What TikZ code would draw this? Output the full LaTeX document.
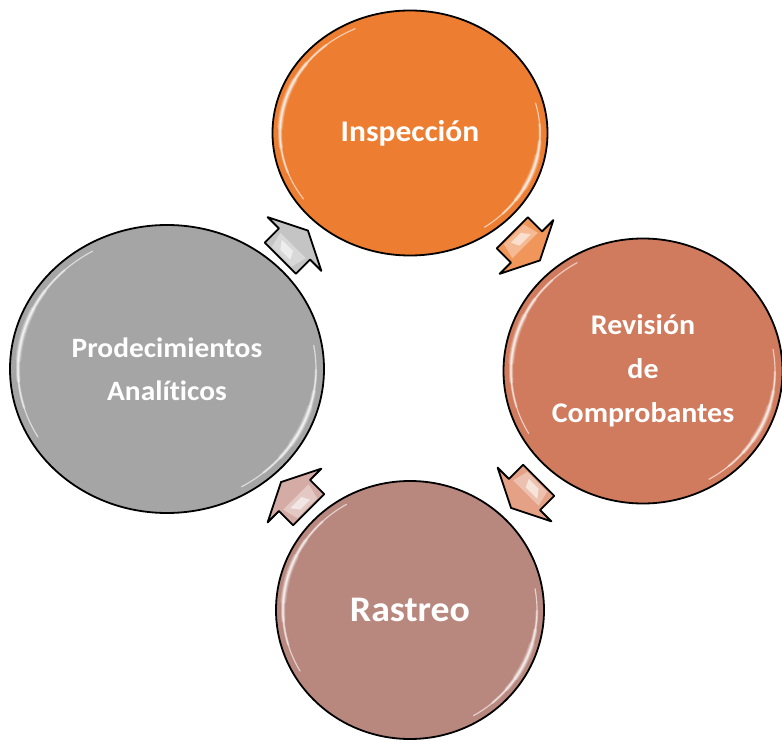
\documentclass[tikz,border=0pt]{standalone}
\usepackage{fontspec}
\setmainfont{Carlito}[FakeStretch=1.05, Ligatures=NoCommon]
\usetikzlibrary{shapes.geometric,calc}

\definecolor{cInsp}{HTML}{ED7D31}
\definecolor{cRev}{HTML}{D07B5D}
\definecolor{cRas}{HTML}{B8887F}
\definecolor{cProd}{HTML}{A5A5A5}
\definecolor{aInsp}{HTML}{F0965A}
\definecolor{aRev}{HTML}{E4A185}
\definecolor{aRas}{HTML}{D5ACA5}
\definecolor{aProd}{HTML}{C4C4C4}

\tikzset{
  stage/.style={ellipse, draw=black, line width=1.8pt, inner sep=0pt,
    text=white, align=center, font=\bfseries},
  arrowshape/.style={draw=black, line width=1.8pt, line join=round},
}

% glossy rim: tapered white arcs inside an ellipse node
\newcommand\glossrim[5]{% node, rx, ry, start, end
  \foreach \w/\o/\t in {1.2/0.6/0, 2.5/0.35/0.15, 4/0.3/0.28, 6/0.2/0.38}{
    \pgfmathsetmacro\sa{#4+(#5-#4)*\t}
    \pgfmathsetmacro\ea{#5-(#5-#4)*\t}
    \draw[white, line width=\w pt, opacity=\o, line cap=round]
      ($(#1.center)+(\sa:#2pt and #3pt)$)
      arc[start angle=\sa, end angle=\ea, x radius=#2pt, y radius=#3pt];
  }}

% notched cycle arrow placed at a point, pointing along an angle
\newcommand\cyclearrow[3]{% position, angle, fill colour
  \begin{scope}[shift={#1}, rotate=#2]
    \fill[#3] (-20,22) -- (0,22) -- (0,38) -- (19,0) -- (0,-38) -- (0,-22) -- (-20,-22) -- cycle;
    \fill[white, opacity=0.35] (-18,14) -- (-2,18) -- (-2,-18) -- (-18,-14) -- cycle;
    \fill[white, opacity=0.55] (-14,6) -- (-6,12) -- (-6,-4) -- (-14,-8) -- cycle;
    \draw[arrowshape] (-20,22) -- (0,22) -- (0,38) -- (19,0) -- (0,-38) -- (0,-22) -- (-20,-22) -- cycle;
  \end{scope}}

\begin{document}
\begin{tikzpicture}[x=1pt, y=1pt]
  \useasboundingbox (0,0) rectangle (782,740);

  % stages
  \node[stage, fill=cInsp, minimum width=275pt, minimum height=245pt,
        font=\bfseries\fontsize{30}{36}\selectfont] (insp) at (410,607) {Inspección};
  \node[stage, fill=cRev, minimum width=279pt, minimum height=265pt,
        font=\bfseries\fontsize{28.5}{44}\selectfont] (rev) at (643,369) {Revisión\\de\\Comprobantes};
  \node[stage, fill=cRas, minimum width=268pt, minimum height=258pt,
        font=\bfseries\fontsize{36}{40}\selectfont] (ras) at (410,130) {Rastreo};
  \node[stage, fill=cProd, minimum width=314pt, minimum height=288pt,
        font=\bfseries\fontsize{28}{43}\selectfont] (prod) at (167,371) {Prodecimientos\\Analíticos};

  % glossy rims
  \glossrim{insp}{130}{115}{115}{215}
  \glossrim{insp}{130}{115}{-55}{15}
  \glossrim{rev}{132}{125}{120}{210}
  \glossrim{rev}{132}{125}{-60}{10}
  \glossrim{ras}{127}{122}{120}{210}
  \glossrim{ras}{127}{122}{-60}{10}
  \glossrim{prod}{149}{136}{120}{210}
  \glossrim{prod}{149}{136}{-60}{10}

  % cycle arrows between stages
  \cyclearrow{($(insp.center)!0.5!(rev.center)+(0,5)$)}{-45}{aInsp}
  \cyclearrow{($(rev.center)!0.5!(ras.center)+(-2,-4)$)}{-135}{aRev}
  \cyclearrow{($(ras.center)!0.5!(prod.center)+(6,-6)$)}{135}{aRas}
  \cyclearrow{($(prod.center)!0.5!(insp.center)+(6,7)$)}{45}{aProd}
\end{tikzpicture}
\end{document}
